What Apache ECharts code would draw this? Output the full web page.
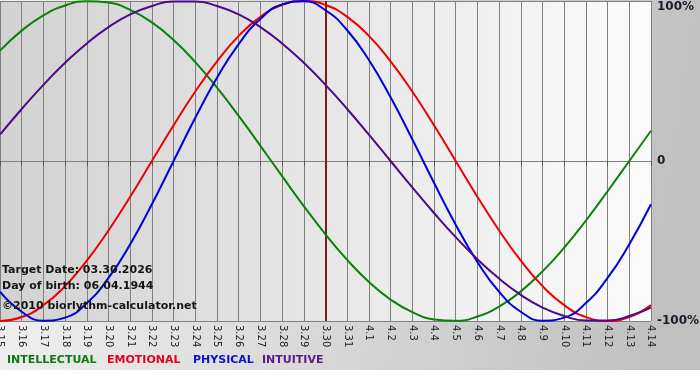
<!DOCTYPE html>
<html>
<head>
<meta charset="utf-8">
<script src="https://cdn.jsdelivr.net/npm/echarts@6/dist/echarts.min.js"></script>
<style>
html,body{margin:0;padding:0;background:#fff;}
#c{width:700px;height:380px;}
</style>
</head>
<body>
<div id="c"></div>
<script>
const dates = ['3.15','3.16','3.17','3.18','3.19','3.20','3.21','3.22','3.23','3.24','3.25','3.26','3.27','3.28','3.29','3.30','3.31','4.1','4.2','4.3','4.4','4.5','4.6','4.7','4.8','4.9','4.10','4.11','4.12','4.13','4.14'];
const targetDate = '3.30';
const seriesNames = ['INTELLECTUAL','EMOTIONAL','PHYSICAL','INTUITIVE'];
const intellectual = [69.0,81.5,91.0,97.2,99.9,99.0,94.5,86.6,75.6,61.8,45.8,28.2,9.5,-9.5,-28.2,-45.8,-61.8,-75.6,-86.6,-94.5,-99.0,-99.9,-97.2,-91.0,-81.5,-69.0,-54.1,-37.2,-18.9,0,18.9];
const emotional = [-100,-97.5,-90.1,-78.2,-62.3,-43.4,-22.3,0,22.3,43.4,62.3,78.2,90.1,97.5,100,97.5,90.1,78.2,62.3,43.4,22.3,0,-22.3,-43.4,-62.3,-78.2,-90.1,-97.5,-100,-97.5,-90.1];
const physical = [-81.7,-94.2,-99.8,-97.9,-88.8,-73.1,-52.0,-27.0,0,27.0,52.0,73.1,88.8,97.9,99.8,94.2,81.7,63.1,39.8,13.6,-13.6,-39.8,-63.1,-81.7,-94.2,-99.8,-97.9,-88.8,-73.1,-52.0,-27.0];
const intuitive = [16.5,32.5,47.6,61.4,73.5,83.7,91.6,96.9,99.7,99.7,96.9,91.6,83.7,73.5,61.4,47.6,32.5,16.5,0,-16.5,-32.5,-47.6,-61.4,-73.5,-83.7,-91.6,-96.9,-99.7,-99.7,-96.9,-91.6];
const yTicks = {'100':'100%','0':'0','-100':'-100%'};
const infoLines = ['Target Date: 03.30.2026','Day of birth: 06.04.1944','©2010 biorlythm-calculator.net'];

const lineColors = ['#0b800b','#ee0000','#0000dd','#4b0a87'];
const legendColors = ['#0a7a0a','#e8001a','#1010cc','#5a1a8a'];
const dataSets = [intellectual, emotional, physical, intuitive];

const chart = echarts.init(document.getElementById('c'), null, {renderer:'canvas'});
const font = 'DejaVu Sans, Verdana, sans-serif';

const series = dataSets.map((d,i)=>({
  name: seriesNames[i],
  type:'line',
  data:d,
  smooth:true,
  showSymbol:false,
  symbol:'none',
  lineStyle:{color:lineColors[i],width:2},
  itemStyle:{color:lineColors[i]},
  z: 3
}));
series[0].markLine = {
  silent:true,
  symbol:['none','none'],
  label:{show:false},
  lineStyle:{color:'#7d1a1a',width:2,type:'solid'},
  data:[{xAxis:targetDate}],
  z: 2
};

const legendX = [7,107,193,262];
const graphics = [
  {type:'rect', z:-10, silent:true, shape:{x:0,y:0,width:700,height:370},
   style:{fill:new echarts.graphic.LinearGradient(0,0,1,0.3,[{offset:0,color:'#f2f2f2'},{offset:1,color:'#c0c0c0'}])}}
];
seriesNames.forEach((n,i)=>graphics.push({type:'text', left:legendX[i], top:355, z:10,
  style:{text:n, fill:legendColors[i], font:'bold 11px '+font}}));
const infoY = [265,281,301];
infoLines.forEach((t,i)=>graphics.push({type:'text', left:2, top:infoY[i], z:10,
  style:{text:t, fill:'#151515', font:'bold 11px '+font}}));

chart.setOption({
  animation:false,
  backgroundColor:'transparent',
  graphic: graphics,
  grid:{left:0,right:49,top:1,bottom:59,show:true,borderWidth:0,containLabel:false,outerBoundsMode:'none',
    backgroundColor:new echarts.graphic.LinearGradient(0,0,1,0,[{offset:0,color:'#d2d2d2'},{offset:1,color:'#fbfbfb'}])},
  xAxis:{
    type:'category',
    data:dates,
    boundaryGap:false,
    axisLine:{show:true,lineStyle:{color:'#808080',width:1}},
    axisTick:{show:true,length:5,lineStyle:{color:'#555'},alignWithLabel:true},
    axisLabel:{rotate:-90,interval:0,fontSize:10,color:'#222',fontFamily:font,margin:4,hideOverlap:false},
    splitLine:{show:true,lineStyle:{color:'#808080',width:1}}
  },
  yAxis:{
    type:'value',
    position:'right',
    min:-100,max:100,interval:100,
    axisLine:{show:false},
    axisTick:{show:false},
    axisLabel:{fontSize:12,fontWeight:'bold',color:'#1a1a2a',fontFamily:font,margin:6,
      formatter:v=>(v===100?'{top|':'{n|')+yTicks[String(v)]+'}',
      rich:{
        top:{fontSize:12,fontWeight:'bold',color:'#1a1a2a',fontFamily:font,padding:[12,0,0,0]},
        n:{fontSize:12,fontWeight:'bold',color:'#1a1a2a',fontFamily:font}
      }},
    splitLine:{show:true,lineStyle:{color:'#808080',width:1}}
  },
  series: series
});
</script>
</body>
</html>
